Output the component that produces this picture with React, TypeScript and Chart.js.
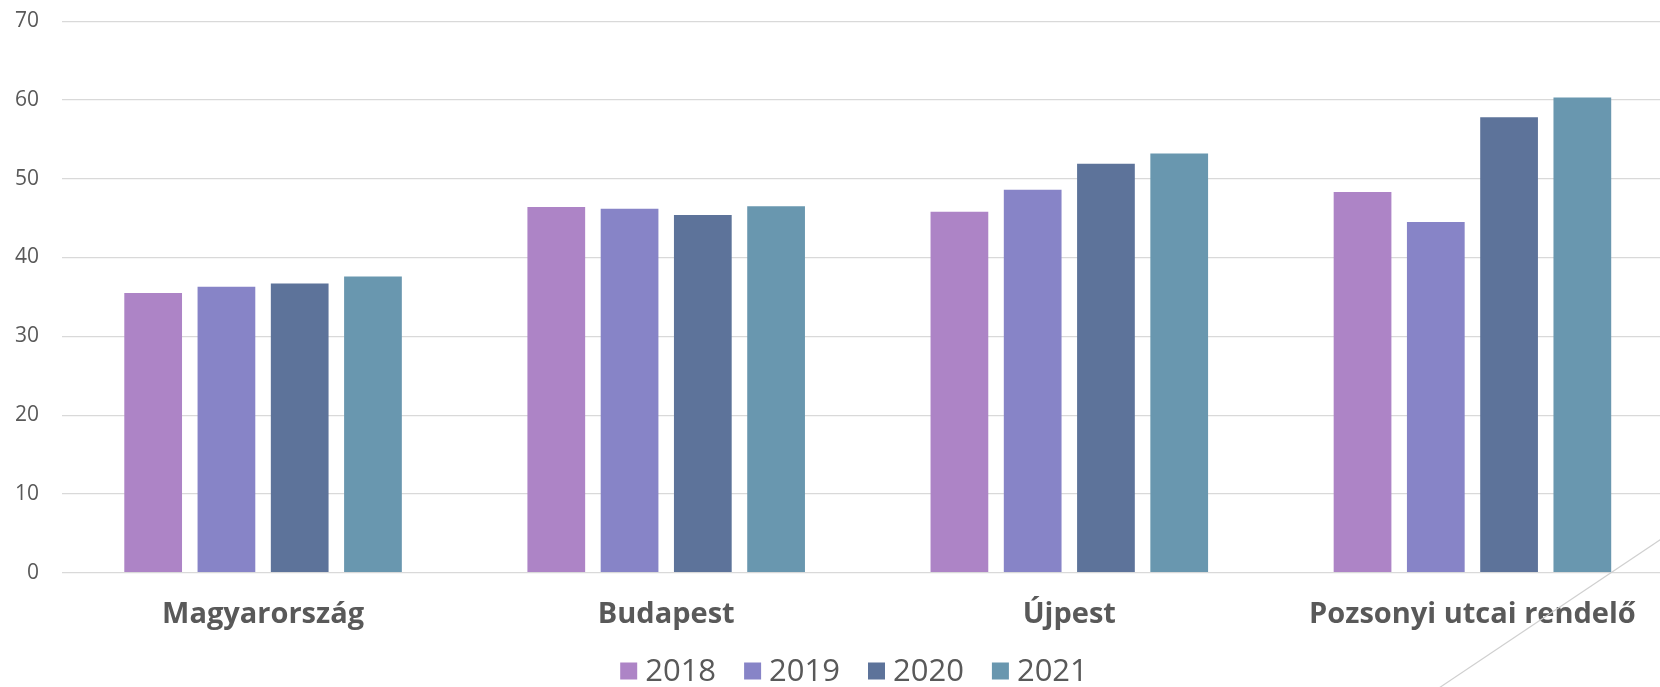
import React, { useEffect, useRef } from "react";
import { Chart, registerables } from "chart.js";

Chart.register(...registerables);

const categories = ["Magyarország", "Budapest", "Újpest", "Pozsonyi utcai rendelő"];
const seriesLabels = ["2018", "2019", "2020", "2021"];
const values2018 = [35.5, 46.4, 45.8, 48.3];
const values2019 = [36.3, 46.2, 48.6, 44.5];
const values2020 = [36.7, 45.4, 51.9, 57.8];
const values2021 = [37.6, 46.5, 53.2, 60.3];
const colors = ["#AD84C6", "#8784C7", "#5D739A", "#6997AF"];
const yMin = 0;
const yMax = 70;
const yStep = 10;

const FONT = "'Open Sans', 'DejaVu Sans', sans-serif";

const legendPlugin = {
  id: "customLegend",
  afterDraw(chart: any) {
    const ctx = chart.ctx;
    ctx.save();
    ctx.font = `31px ${FONT}`;
    const box = 17;
    const gap = 8;
    const spacing = 28;
    const items = chart.data.datasets.map((d: any) => ({
      label: d.label,
      color: d.backgroundColor,
      w: ctx.measureText(d.label).width,
    }));
    let total = 0;
    items.forEach((it: any, i: number) => {
      total += box + gap + it.w + (i < items.length - 1 ? spacing : 0);
    });
    const cx = 854;
    const cy = 671;
    let x = cx - total / 2;
    ctx.textBaseline = "middle";
    ctx.textAlign = "left";
    items.forEach((it: any) => {
      ctx.fillStyle = it.color;
      ctx.fillRect(x, cy - box / 2, box, box);
      x += box + gap;
      ctx.fillStyle = "#595959";
      ctx.fillText(it.label, x, cy + 1);
      x += it.w + spacing;
    });
    ctx.restore();
  },
};

const decoPlugin = {
  id: "deco",
  beforeDatasetsDraw(chart: any) {
    const ctx = chart.ctx;
    ctx.save();
    ctx.strokeStyle = "#d0d0d0";
    ctx.lineWidth = 1.2;
    ctx.beginPath();
    ctx.moveTo(1430, 694);
    ctx.lineTo(1700, 513);
    ctx.stroke();
    ctx.restore();
  },
};

export default function App() {
  const ref = useRef<HTMLCanvasElement | null>(null);
  useEffect(() => {
    if (!ref.current) return;
    const chart = new Chart(ref.current, {
      type: "bar",
      data: {
        labels: categories,
        datasets: [values2018, values2019, values2020, values2021].map((v, i) => ({
          label: seriesLabels[i],
          data: v,
          backgroundColor: colors[i],
          borderWidth: 0,
          categoryPercentage: 0.727,
          barPercentage: 0.788,
        })),
      },
      options: {
        responsive: false,
        animation: false,
        layout: { padding: { left: 0, right: 0, top: 21.1, bottom: 34.3 } },
        plugins: {
          legend: { display: false },
          tooltip: { enabled: false },
        },
        scales: {
          x: {
            grid: { display: false, drawTicks: false },
            border: { display: false },
            ticks: {
              autoSkip: false,
              maxRotation: 0,
              padding: 25,
              color: "#595959",
              font: { family: FONT, size: 29, weight: "bold" },
            },
            afterFit(scale: any) {
              scale.height = 80;
            },
          },
          y: {
            min: yMin,
            max: yMax,
            grid: {
              color: "#d9d9d9",
              lineWidth: 1.2,
              drawTicks: true,
              tickLength: 22.5,
              tickColor: "rgba(0,0,0,0)",
            },
            border: { display: false },
            ticks: {
              stepSize: yStep,
              padding: 0,
              color: "#595959",
              font: { family: FONT, size: 21 },
            },
            afterFit(scale: any) {
              scale.width = 61.5;
            },
          },
        },
      },
      plugins: [legendPlugin, decoPlugin],
    });
    return () => chart.destroy();
  }, []);
  return (
    <div
      style={{
        position: "absolute",
        left: 0,
        top: 0,
        width: 1660,
        height: 687,
        overflow: "hidden",
        background: "#fff",
      }}
    >
      <canvas ref={ref} width={1674} height={687} style={{ display: "block" }} />
    </div>
  );
}
